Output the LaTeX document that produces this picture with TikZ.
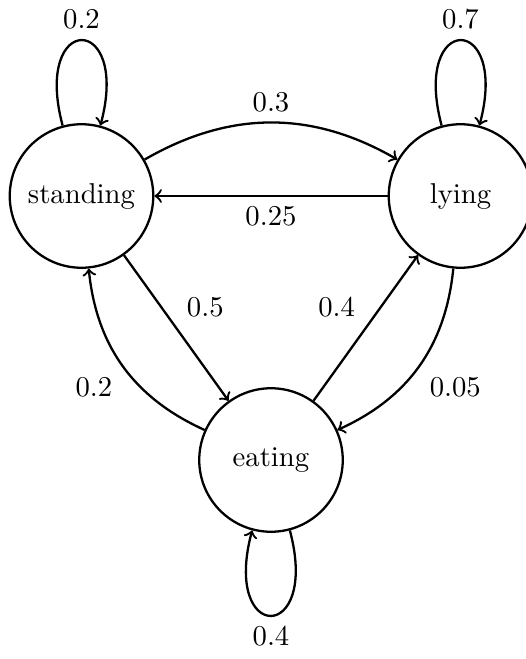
\documentclass[tikz,border=0pt]{standalone}
\begin{document}
\begin{tikzpicture}[x=0.3484pt,y=-0.3484pt,
  statenode/.style={circle,draw,line width=0.8pt,minimum size=50pt,inner sep=0pt},
  trans/.style={->,line width=0.8pt}]
\useasboundingbox (0,0) rectangle (525,659);

% states
\node[statenode] (standing) at (81.5,196) {standing};
\node[statenode] (lying)    at (460.5,196) {lying};
\node[statenode] (eating)   at (271,460) {eating};

% transitions between states
\draw[trans] (standing) to[bend left=30] node[auto] {0.3} (lying);
\draw[trans] (lying) -- node[auto] {0.25} (standing);
\draw[trans] (standing) -- node[auto] {0.5} (eating);
\draw[trans] (eating) -- node[auto] {0.4} (lying);
\draw[trans] (lying) to[bend left=30] node[auto] {0.05} (eating);
\draw[trans] (eating) to[bend left=30] node[auto] {0.2} (standing);

% self loops
\draw[trans] (standing) to[loop above] node[above] {0.2} (standing);
\draw[trans] (lying) to[loop above] node[above] {0.7} (lying);
\draw[trans] (eating) to[loop below] node[below] {0.4} (eating);
\end{tikzpicture}
\end{document}
